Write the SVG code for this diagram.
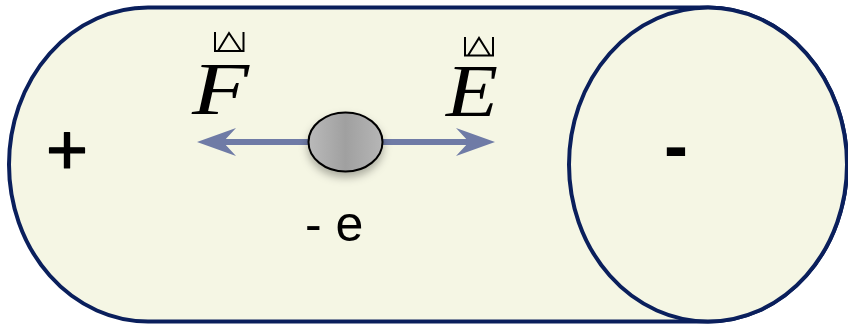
<svg xmlns="http://www.w3.org/2000/svg" width="848" height="324" viewBox="0 0 848 324">
<style>
.body{fill:#f5f6e4;stroke:#0a1f5c;stroke-width:4}
.arrow{fill:#6f7ba6}
.sign{font-family:"Liberation Sans",Arial,sans-serif;font-size:72px;fill:#000}
.vec{font-family:"Liberation Serif","Times New Roman",serif;font-style:italic;font-size:73px;fill:#000}
.mark{fill:none;stroke:#000;stroke-width:2}
.lbl{font-family:"Liberation Sans",Arial,sans-serif;font-size:50px;fill:#000}
</style>
<defs>
<linearGradient id="g" x1="0" y1="0" x2="1" y2="0">
<stop offset="0" stop-color="#bababa"/>
<stop offset="0.5" stop-color="#a0a0a0"/>
<stop offset="1" stop-color="#b6b6b6"/>
</linearGradient>
<filter id="sh" x="-30%" y="-30%" width="160%" height="180%">
<feDropShadow dx="0" dy="5" stdDeviation="4" flood-color="#000" flood-opacity="0.3"/>
</filter>
</defs>
<g id="cylinder">
<path class="body" d="M148,7.5 L708,7.5 A139,157 0 0 1 708,321.5 L148,321.5 A139,157 0 0 1 148,7.5 Z"/>
<ellipse class="body" cx="708" cy="164.5" rx="139" ry="157"/>
<text class="sign" x="67" y="174" text-anchor="middle" stroke="#000" stroke-width="1.2" stroke-linejoin="round">+</text>
<text class="sign" x="676" y="170" text-anchor="middle" font-weight="bold">-</text>
</g>
<g id="connectors">
<rect class="arrow" x="220" y="139" width="90" height="6"/>
<path class="arrow" d="M197,142 L236,128 L223,142 L236,156 Z"/>
<rect class="arrow" x="380" y="139" width="92" height="6"/>
<path class="arrow" d="M495,142 L456,128 L469,142 L456,156 Z"/>
</g>
<g id="electron">
<ellipse cx="345.5" cy="142" rx="37" ry="29.5" fill="url(#g)" stroke="#000" stroke-width="2" filter="url(#sh)"/>
<text class="lbl" x="305" y="241">- e</text>
</g>
<g id="force">
<path class="mark" d="M215,32 L215,51 L243.5,51 L243.5,32 M218,51 L229,33 L241,51"/>
<text class="vec" x="192" y="114" textLength="57" lengthAdjust="spacingAndGlyphs">F</text>
</g>
<g id="field">
<path class="mark" d="M465,37 L465,55.5 L493,55.5 L493,37 M468,55.5 L479,38 L490,55.5"/>
<text class="vec" x="446" y="116" textLength="52" lengthAdjust="spacingAndGlyphs">E</text>
</g>
</svg>
